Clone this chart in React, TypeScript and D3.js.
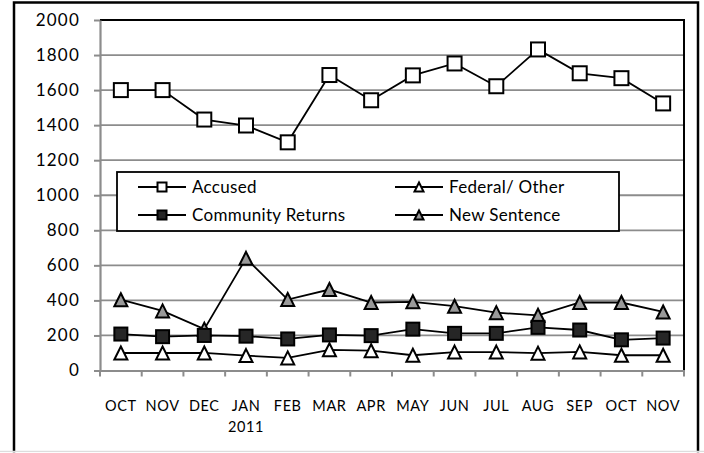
import React, { useEffect, useRef } from "react";
import * as d3 from "d3";

const months = ["OCT", "NOV", "DEC", "JAN", "FEB", "MAR", "APR", "MAY", "JUN", "JUL", "AUG", "SEP", "OCT", "NOV"];
const accused = [1600, 1600, 1432, 1398, 1302, 1686, 1542, 1684, 1752, 1622, 1832, 1696, 1668, 1524];
const community = [208, 193, 200, 196, 180, 203, 199, 236, 212, 212, 246, 231, 175, 185];
const federal = [100, 100, 100, 85, 72, 118, 113, 87, 105, 105, 99, 106, 87, 87];
const newSentence = [404, 340, 236, 640, 405, 462, 388, 392, 367, 330, 315, 388, 388, 334];
const yTicks = [0, 200, 400, 600, 800, 1000, 1200, 1400, 1600, 1800, 2000];

const font = "Lato, 'Open Sans', sans-serif";

const App = () => {
  const ref = useRef<SVGSVGElement>(null);

  useEffect(() => {
    const svg = d3.select(ref.current);
    svg.selectAll("*").remove();

    const margin = { top: 20, left: 100, right: 684, bottom: 370.5 };

    const x = d3
      .scaleBand()
      .domain(months.map((m, i) => i + ""))
      .range([margin.left, margin.right]);
    const y = d3.scaleLinear().domain([0, 2000]).range([margin.bottom, margin.top]);
    const cx = (i: number) => (x(i + "") as number) + x.bandwidth() / 2;

    // outer frame
    svg
      .append("rect")
      .attr("x", 14)
      .attr("y", 2.5)
      .attr("width", 684)
      .attr("height", 460)
      .attr("fill", "white")
      .attr("stroke", "black")
      .attr("stroke-width", 2.5);
    svg
      .append("line")
      .attr("x1", 0)
      .attr("x2", 704)
      .attr("y1", 451.5)
      .attr("y2", 451.5)
      .attr("stroke", "#ddd")
      .attr("stroke-width", 1.5);
    svg.append("rect").attr("x", 0).attr("y", 452.3).attr("width", 704).attr("height", 2).attr("fill", "white");

    // grid
    svg
      .append("g")
      .selectAll("line")
      .data(yTicks.slice(1, -1))
      .enter()
      .append("line")
      .attr("x1", margin.left)
      .attr("x2", margin.right)
      .attr("y1", (d) => y(d))
      .attr("y2", (d) => y(d))
      .attr("stroke", "#8c8c8c")
      .attr("stroke-width", 1.8);

    // plot border (top/right black)
    svg
      .append("path")
      .attr("d", `M${margin.left},${margin.top}H${margin.right}V${margin.bottom}`)
      .attr("fill", "none")
      .attr("stroke", "black")
      .attr("stroke-width", 2);

    // y axis
    const yAxis = svg.append("g").attr("transform", `translate(${margin.left},0)`);
    yAxis.call(d3.axisLeft(y).tickValues(yTicks).tickFormat(d3.format("d")).tickSize(6).tickSizeOuter(0));
    yAxis.select(".domain").attr("stroke", "#8c8c8c").attr("stroke-width", 2.2);
    yAxis.selectAll(".tick line").attr("stroke", "#8c8c8c").attr("stroke-width", 2);
    yAxis
      .selectAll(".tick text")
      .attr("x", -20)
      .attr("font-family", font)
      .attr("font-size", 17)
      .attr("letter-spacing", 1.2)
      .attr("fill", "black");

    // x axis
    const xAxis = svg.append("g").attr("transform", `translate(0,${margin.bottom})`);
    xAxis.call(d3.axisBottom(x).tickSize(0).tickSizeOuter(0).tickFormat(() => ""));
    xAxis.select(".domain").attr("stroke", "#8c8c8c").attr("stroke-width", 2.2);
    xAxis
      .append("g")
      .selectAll("line")
      .data(d3.range(months.length + 1))
      .enter()
      .append("line")
      .attr("x1", (i) => margin.left + i * x.bandwidth())
      .attr("x2", (i) => margin.left + i * x.bandwidth())
      .attr("y1", 0)
      .attr("y2", 6)
      .attr("stroke", "#8c8c8c")
      .attr("stroke-width", 2);

    svg
      .append("g")
      .selectAll("text")
      .data(months)
      .enter()
      .append("text")
      .text((d) => d)
      .attr("x", (d, i) => cx(i))
      .attr("y", 411)
      .attr("text-anchor", "middle")
      .attr("font-family", font)
      .attr("font-size", 14.5)
      .attr("letter-spacing", 0.6)
      .attr("fill", "black");
    svg
      .append("text")
      .text("2011")
      .attr("x", cx(3))
      .attr("y", 432)
      .attr("text-anchor", "middle")
      .attr("font-family", font)
      .attr("font-size", 14.5)
      .attr("letter-spacing", 0.6)
      .attr("fill", "black");

    const square = (g: any, fill: string, s: number) =>
      g
        .append("rect")
        .attr("x", -s / 2)
        .attr("y", -s / 2)
        .attr("width", s)
        .attr("height", s)
        .attr("fill", fill)
        .attr("stroke", "black")
        .attr("stroke-width", 2);
    const tri = (g: any, fill: string, s: number) =>
      g
        .append("path")
        .attr("d", `M0,${-s / 2}L${s / 2},${s / 2}L${-s / 2},${s / 2}Z`)
        .attr("fill", fill)
        .attr("stroke", "black")
        .attr("stroke-width", 2)
        .attr("stroke-linejoin", "miter");

    const series = [
      { name: "Federal/ Other", values: federal, marker: tri, fill: "white", size: 13 },
      { name: "New Sentence", values: newSentence, marker: tri, fill: "#999999", size: 13 },
      { name: "Community Returns", values: community, marker: square, fill: "#262626", size: 13 },
      { name: "Accused", values: accused, marker: square, fill: "white", size: 14 },
    ];

    const line = d3
      .line<number>()
      .x((d, i) => cx(i))
      .y((d) => y(d));

    series.forEach((s) => {
      svg
        .append("path")
        .datum(s.values)
        .attr("fill", "none")
        .attr("stroke", "black")
        .attr("stroke-width", 1.8)
        .attr("d", line);
      s.values.forEach((v, i) => {
        const g = svg.append("g").attr("transform", `translate(${cx(i)},${y(v)})`);
        s.marker(g, s.fill, s.size);
      });
    });

    // legend
    const leg = svg.append("g");
    leg
      .append("rect")
      .attr("x", 117)
      .attr("y", 172)
      .attr("width", 502)
      .attr("height", 59)
      .attr("fill", "white")
      .attr("stroke", "black")
      .attr("stroke-width", 1.8);
    const items = [
      { s: series[3], x: 138, y: 187 },
      { s: series[2], x: 138, y: 215 },
      { s: series[0], x: 395, y: 187 },
      { s: series[1], x: 395, y: 215 },
    ];
    items.forEach((it) => {
      leg
        .append("line")
        .attr("x1", it.x)
        .attr("x2", it.x + 48)
        .attr("y1", it.y)
        .attr("y2", it.y)
        .attr("stroke", "black")
        .attr("stroke-width", 1.8);
      const g = leg.append("g").attr("transform", `translate(${it.x + 24},${it.y})`);
      it.s.marker(g, it.s.fill, 9);
      leg
        .append("text")
        .text(it.s.name)
        .attr("x", it.x + 54)
        .attr("y", it.y)
        .attr("dy", "0.36em")
        .attr("font-family", font)
        .attr("font-size", 17)
        .attr("letter-spacing", 0.3)
        .attr("fill", "black");
    });
  }, []);

  return (
    <svg
      ref={ref}
      width={704}
      height={453}
      style={{ position: "absolute", left: 0, top: 0, background: "white" }}
    />
  );
};
export default App;
